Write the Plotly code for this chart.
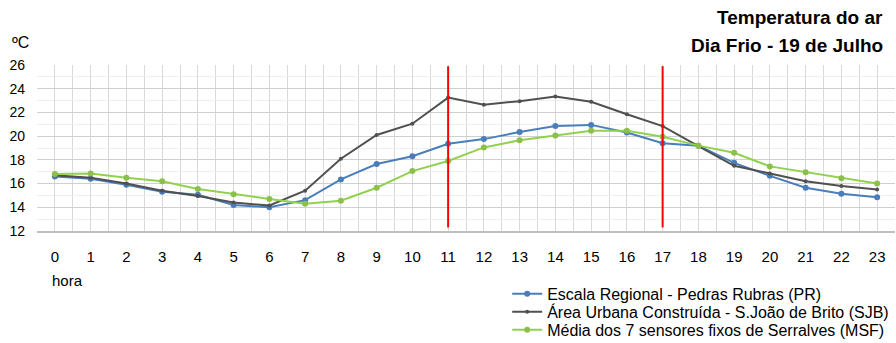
import plotly.graph_objects as go

# Hourly air temperature, cold day (19 July)
hours = list(range(24))
hour_labels = [str(h) for h in hours]

pr_temp = [16.6, 16.4, 15.9, 15.3, 15.05, 14.2, 14.0, 14.6, 16.35, 17.65, 18.3, 19.35,
           19.75, 20.35, 20.85, 20.95, 20.3, 19.4, 19.2, 17.75, 16.65, 15.65, 15.15, 14.85]
sjb_temp = [16.7, 16.5, 16.0, 15.4, 14.95, 14.4, 14.15, 15.4, 18.1, 20.1, 21.05, 23.25,
            22.65, 22.95, 23.35, 22.9, 21.85, 20.85, 19.15, 17.5, 16.85, 16.2, 15.8, 15.5]
msf_temp = [16.8, 16.85, 16.5, 16.2, 15.55, 15.1, 14.7, 14.3, 14.55, 15.65, 17.05, 17.9,
            19.05, 19.65, 20.05, 20.45, 20.45, 19.95, 19.2, 18.6, 17.45, 16.95, 16.45, 16.0]

series_names = [
    "Escala Regional - Pedras Rubras (PR)",
    "Área Urbana Construída - S.João de Brito (SJB)",
    "Média dos 7 sensores fixos de Serralves (MSF)",
]
series_colors = ["#4a7ebb", "#505050", "#92d050"]
marker_colors = ["#4a7ebb", "#505050", "#8cc04a"]
marker_sizes = [6, 4, 6]

marked_hours = [11, 17]

FONT = "Liberation Sans"

# one legend per series so the rows can sit close together
legend_ids = ["legend", "legend2", "legend3"]
legend_rows_y = [0.143, 0.0905, 0.038]

fig = go.Figure()
for name, values, col, mcol, msize, lid in zip(series_names, [pr_temp, sjb_temp, msf_temp],
                                               series_colors, marker_colors, marker_sizes,
                                               legend_ids):
    fig.add_trace(go.Scatter(
        x=hours, y=values, name=name, mode="lines+markers",
        line=dict(color=col, width=2),
        marker=dict(color=mcol, size=msize),
        legend=lid,
    ))

for h in marked_hours:
    fig.add_shape(type="line", xref="x", yref="y", x0=h, x1=h, y0=12.3, y1=25.9,
                  line=dict(color="#ff0000", width=2))

fig.update_xaxes(
    range=[-0.5, 23.5], tickmode="array", tickvals=hours, ticktext=hour_labels,
    showgrid=True, gridcolor="#d9d9d9", gridwidth=1,
    minor=dict(tickmode="linear", tick0=-0.5, dtick=1, showgrid=True,
               gridcolor="#d9d9d9", gridwidth=1),
    showline=True, linecolor="#bfbfbf", linewidth=2,
    ticks="", ticklabelstandoff=11,
    tickfont=dict(family=FONT, size=15, color="#000000"),
    zeroline=False,
)
fig.update_yaxes(
    range=[12, 26], tickmode="linear", tick0=12, dtick=2,
    showgrid=True, gridcolor="#cfcfcf", gridwidth=1,
    minor=dict(tickmode="linear", tick0=13, dtick=2, showgrid=True,
               gridcolor="#efefef", gridwidth=1),
    showline=False, ticks="", ticklabelstandoff=11,
    tickfont=dict(family=FONT, size=14, color="#000000"),
    zeroline=False,
)

fig.add_annotation(text="ºC", xref="paper", yref="paper", x=-0.0315, y=1.133,
                   xanchor="left", yanchor="middle", showarrow=False,
                   font=dict(family=FONT, size=16, color="#000000"))
fig.add_annotation(text="hora", xref="paper", yref="paper", x=0.0152, y=-0.301,
                   xanchor="left", yanchor="middle", showarrow=False,
                   font=dict(family=FONT, size=15, color="#000000"))
fig.add_annotation(text="<b>Temperatura do ar</b>", xref="paper", yref="paper",
                   x=0.988, y=1.289, xanchor="right", yanchor="middle", showarrow=False,
                   font=dict(family=FONT, size=19, color="#000000"))
fig.add_annotation(text="<b>Dia Frio - 19 de Julho</b>", xref="paper", yref="paper",
                   x=0.988, y=1.120, xanchor="right", yanchor="middle", showarrow=False,
                   font=dict(family=FONT, size=19, color="#000000"))

legend_style = dict(x=0.548, xref="paper", yref="container", xanchor="left",
                    yanchor="middle", font=dict(family=FONT, size=16, color="#000000"),
                    bgcolor="rgba(0,0,0,0)", itemwidth=30)

fig.update_layout(
    width=896, height=343,
    margin=dict(l=37, r=1, t=65, b=112, autoexpand=False),
    paper_bgcolor="white", plot_bgcolor="white",
    showlegend=True,
    legend=dict(y=legend_rows_y[0], **legend_style),
    legend2=dict(y=legend_rows_y[1], **legend_style),
    legend3=dict(y=legend_rows_y[2], **legend_style),
)

fig.write_html("out.html")
